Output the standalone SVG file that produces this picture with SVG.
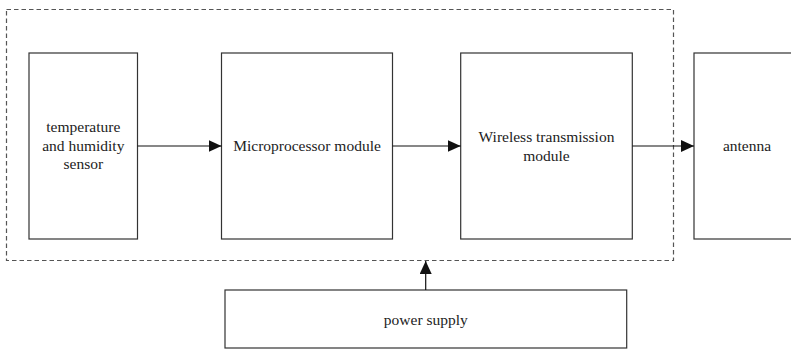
<svg xmlns="http://www.w3.org/2000/svg" width="791" height="349" viewBox="0 0 791 349">
<style>
.box{fill:#fff;stroke:#333;stroke-width:1.2}
.lbl{font-family:"Liberation Serif","Times New Roman",serif;font-size:15.5px;fill:#222;text-anchor:middle}
.conn{stroke:#111;stroke-width:1.2;fill:none}
</style>
<defs>
<marker id="ah" markerWidth="13" markerHeight="12" refX="13" refY="6" orient="auto" markerUnits="userSpaceOnUse">
<path d="M0,0 L13,6 L0,12 Z" fill="#111"/>
</marker>
</defs>
<rect width="791" height="349" fill="#fff"/>
<rect x="6.5" y="9.5" width="667" height="251" fill="none" stroke="#555" stroke-width="1.2" stroke-dasharray="4.5,3"/>
<g id="sensor"><rect class="box" x="29" y="53" width="108.5" height="186"/>
<text class="lbl" x="83.3" y="132">temperature</text>
<text class="lbl" x="83.3" y="150.5">and humidity</text>
<text class="lbl" x="83.3" y="169">sensor</text></g>
<g id="micro"><rect class="box" x="221.5" y="53" width="171" height="186"/>
<text class="lbl" x="307" y="151">Microprocessor module</text></g>
<g id="wireless"><rect class="box" x="460.7" y="53" width="171.6" height="186"/>
<text class="lbl" x="546.5" y="142">Wireless transmission</text>
<text class="lbl" x="546.5" y="160.5">module</text></g>
<g id="antenna"><rect class="box" x="694" y="53" width="106" height="186"/>
<text class="lbl" x="747" y="151">antenna</text></g>
<g id="power"><rect class="box" x="225" y="290" width="401.7" height="58"/>
<text class="lbl" x="425.8" y="325">power supply</text></g>
<g id="connectors">
<line class="conn" x1="137.5" y1="146" x2="221.5" y2="146" marker-end="url(#ah)"/>
<line class="conn" x1="392.5" y1="146" x2="460.7" y2="146" marker-end="url(#ah)"/>
<line class="conn" x1="632.3" y1="146" x2="694" y2="146" marker-end="url(#ah)"/>
<line class="conn" x1="425.7" y1="290" x2="425.7" y2="261" marker-end="url(#ah)"/>
</g>
</svg>
